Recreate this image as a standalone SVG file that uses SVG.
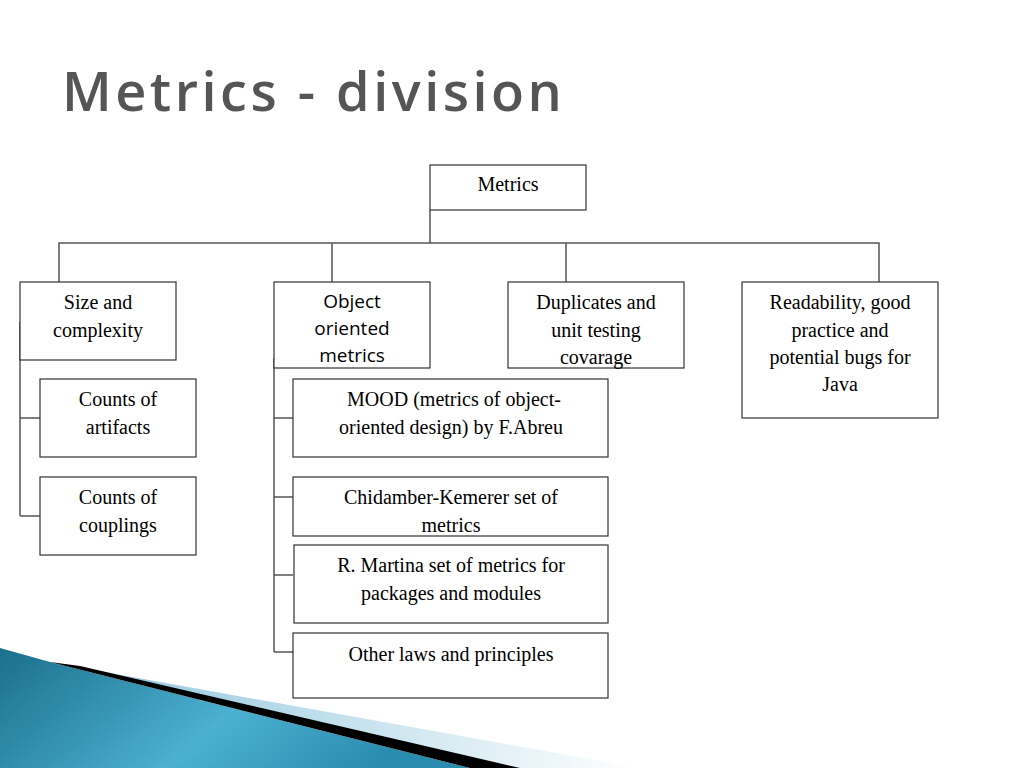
<svg xmlns="http://www.w3.org/2000/svg" width="1024" height="768" viewBox="0 0 1024 768">
<defs>
<style>
.b{fill:#fff;stroke:#333;stroke-width:1.2}
.t{font-family:'Liberation Serif','Times New Roman','DejaVu Serif',serif;font-size:20px;fill:#000;text-anchor:middle}
.s{font-family:'Open Sans',sans-serif;font-size:19px;fill:#000;text-anchor:middle}
.c{fill:none;stroke:#555;stroke-width:1.5}
</style>
<linearGradient id="g" x1="0" y1="0" x2="1" y2="0.3">
<stop offset="0" stop-color="#1a6f8c"/><stop offset="0.6" stop-color="#4cb0d0"/><stop offset="1" stop-color="#2a8db0"/>
</linearGradient>
<linearGradient id="lg" x1="0" y1="0" x2="1" y2="0">
<stop offset="0" stop-color="#8cc4dc"/><stop offset="1" stop-color="#ffffff"/>
</linearGradient>
</defs>
<rect width="1024" height="768" fill="#fff"/>
<polygon points="60,664 640,768 520,768" fill="url(#lg)"/>
<polygon points="0,648 50,662 470,768 0,768" fill="url(#g)"/>
<polygon points="50,662 80,666 520,768 470,768" fill="#000"/>
<text x="62" y="111" font-family="'Open Sans',sans-serif" font-weight="600" font-size="54" fill="#555" letter-spacing="3.5">Metrics - division</text>
<g id="connectors" class="c">
<path d="M430,210 V243 M59,282 V243 H879 V282 M332,243 V282 M566,243 V282"/>
<path d="M20,322 V516 M20,418 H40 M20,516 H40"/>
<path d="M274,358 V652 M274,418 H293 M274,497 H293 M274,575 H293 M274,652 H293"/>
</g>
<g id="metrics"><rect class="b" x="430" y="165" width="156" height="45"/><text class="t" x="508" y="191">Metrics</text></g>
<g id="size"><rect class="b" x="20" y="282" width="156" height="78"/><text class="t" x="98" y="309">Size and</text><text class="t" x="98" y="337">complexity</text></g>
<g id="oo"><rect class="b" x="274" y="282" width="156" height="86"/><text class="s" x="352" y="308">Object</text><text class="s" x="352" y="335">oriented</text><text class="s" x="352" y="362">metrics</text></g>
<g id="dup"><rect class="b" x="508" y="282" width="176" height="86"/><text class="t" x="596" y="309">Duplicates and</text><text class="t" x="596" y="337">unit testing</text><text class="t" x="596" y="364">covarage</text></g>
<g id="read"><rect class="b" x="742" y="282" width="196" height="136"/><text class="t" x="840" y="309">Readability, good</text><text class="t" x="840" y="337">practice and</text><text class="t" x="840" y="364">potential bugs for</text><text class="t" x="840" y="391">Java</text></g>
<g id="artifacts"><rect class="b" x="40" y="379" width="156" height="78"/><text class="t" x="118" y="406">Counts of</text><text class="t" x="118" y="434">artifacts</text></g>
<g id="couplings"><rect class="b" x="40" y="477" width="156" height="78"/><text class="t" x="118" y="504">Counts of</text><text class="t" x="118" y="532">couplings</text></g>
<g id="mood"><rect class="b" x="293" y="379" width="315" height="78"/><text class="t" x="454" y="406">MOOD (metrics of object-</text><text class="t" x="451" y="434">oriented design) by F.Abreu</text></g>
<g id="ck"><rect class="b" x="293" y="477" width="315" height="59"/><text class="t" x="451" y="504">Chidamber-Kemerer set of</text><text class="t" x="451" y="532">metrics</text></g>
<g id="martin"><rect class="b" x="294" y="545" width="314" height="78"/><text class="t" x="451" y="572">R. Martina set of metrics for</text><text class="t" x="451" y="600">packages and modules</text></g>
<g id="other"><rect class="b" x="293" y="633" width="315" height="65"/><text class="t" x="451" y="661">Other laws and principles</text></g>
</svg>
